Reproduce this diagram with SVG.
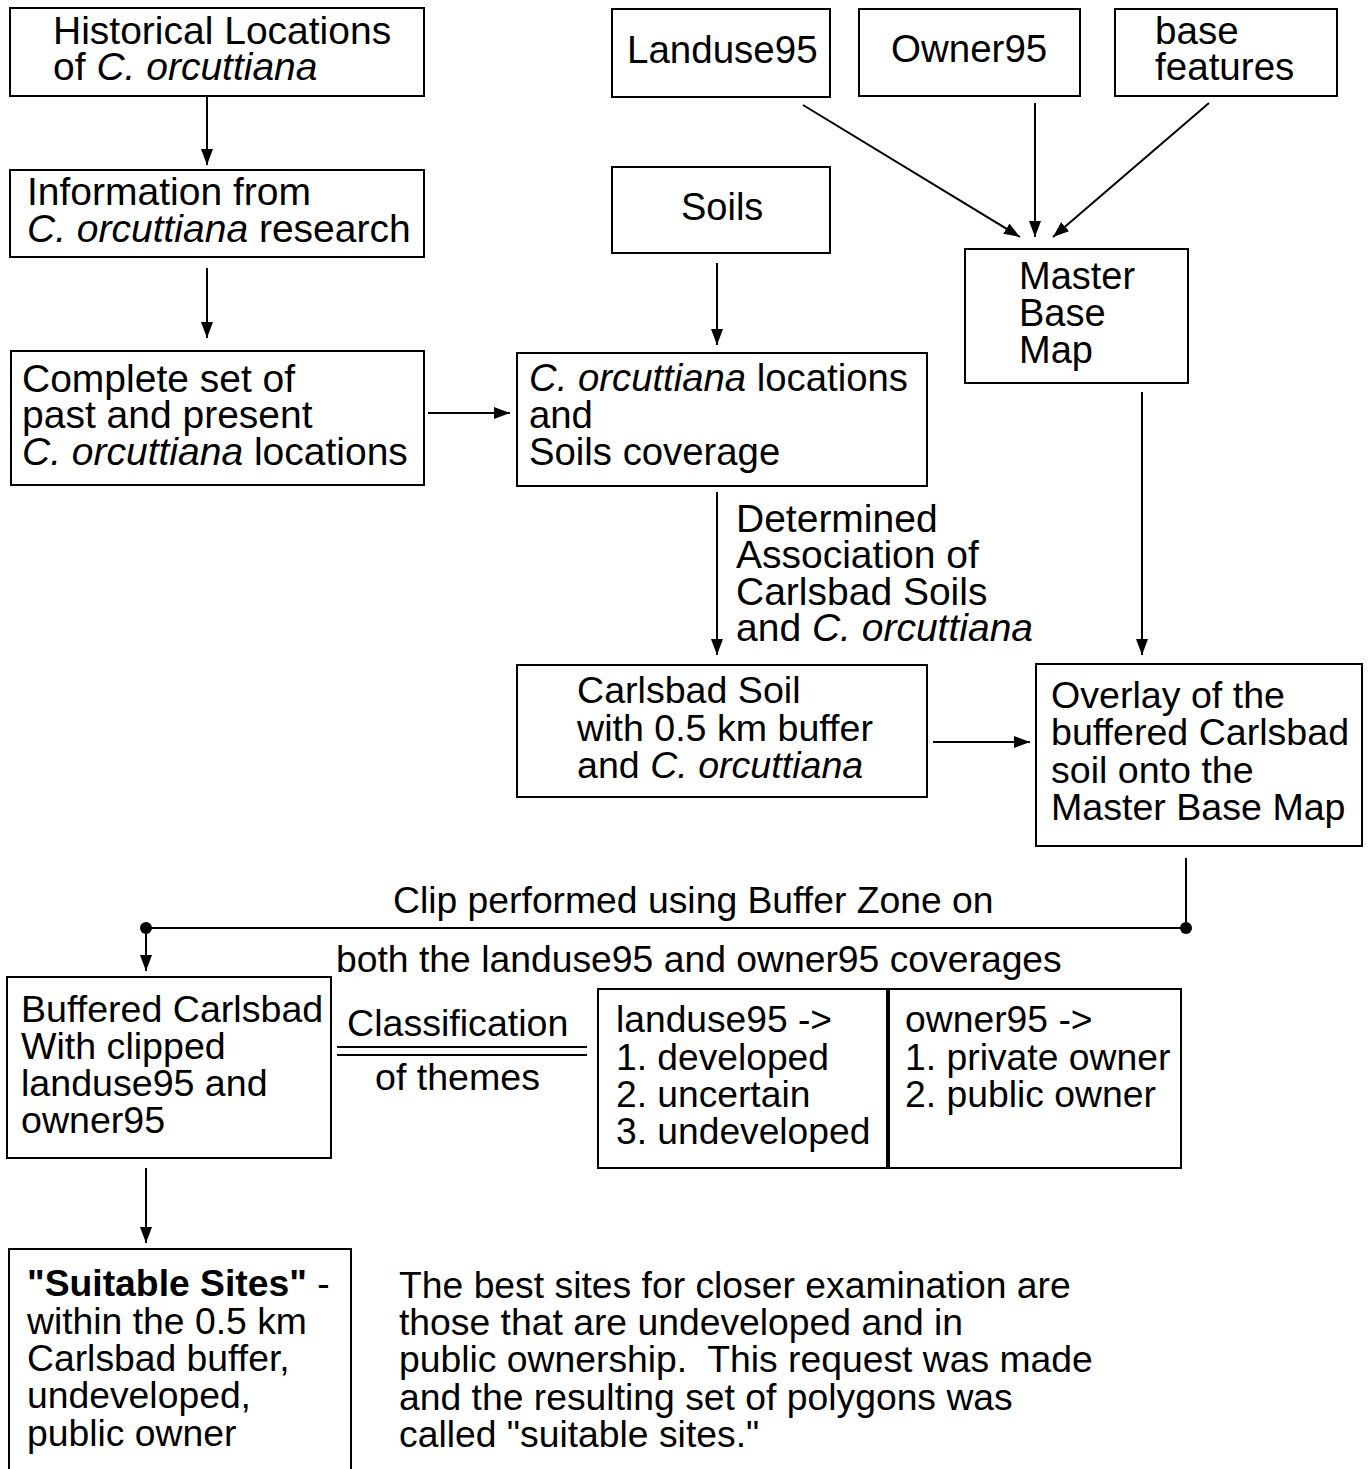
<svg xmlns="http://www.w3.org/2000/svg" width="1369" height="1469" viewBox="0 0 1369 1469">
<style>
.b{fill:#fff;stroke:#000;stroke-width:2}
.t{font-family:"Liberation Sans",Arial,sans-serif;font-size:38px;fill:#000}
.s39{font-size:39px}
.s37{font-size:37.3px}
.s375{font-size:37.6px}
.i{font-style:italic}
.bd{font-weight:bold}
.c{stroke:#000;stroke-width:2;fill:none}
.a{marker-end:url(#ah)}
</style>
<defs>
<marker id="ah" markerWidth="16" markerHeight="12" refX="16" refY="6" orient="auto" markerUnits="userSpaceOnUse">
<path d="M0,0 L16,6 L0,12 z" fill="#000"/>
</marker>
</defs>
<rect width="1369" height="1469" fill="#fff"/>

<g id="connectors">
<line class="c a" x1="207" y1="96" x2="207" y2="165"/>
<line class="c a" x1="207" y1="268" x2="207" y2="338"/>
<line class="c a" x1="428" y1="413" x2="510" y2="413"/>
<line class="c a" x1="717" y1="263" x2="717" y2="345"/>
<line class="c a" x1="803" y1="105" x2="1020" y2="237"/>
<line class="c a" x1="1035" y1="103" x2="1035" y2="237"/>
<line class="c a" x1="1209" y1="103" x2="1053" y2="237"/>
<line class="c a" x1="1142" y1="392" x2="1142" y2="655"/>
<line class="c a" x1="717" y1="492" x2="717" y2="655"/>
<line class="c a" x1="933" y1="742" x2="1030" y2="742"/>
<polyline class="c" points="1186,858 1186,928 146,928"/>
<circle cx="1186" cy="928" r="6" fill="#000"/>
<circle cx="146" cy="928" r="6" fill="#000"/>
<line class="c a" x1="146" y1="928" x2="146" y2="971"/>
<line class="c a" x1="146" y1="1168" x2="146" y2="1243"/>
<text class="t s39"><tspan x="736" y="532">Determined</tspan><tspan x="736" y="568">Association of</tspan><tspan x="736" y="605">Carlsbad Soils</tspan><tspan x="736" y="641">and <tspan class="i">C. orcuttiana</tspan></tspan></text>
<text class="t s37" x="393" y="913">Clip performed using Buffer Zone on</text>
<text class="t s37" x="336" y="972">both the landuse95 and owner95 coverages</text>
<line class="c" x1="337" y1="1047" x2="587" y2="1047"/>
<line class="c" x1="337" y1="1055" x2="587" y2="1055"/>
<text class="t s375" x="347" y="1036">Classification</text>
<text class="t s375" x="375" y="1090">of themes</text>
</g>

<g id="historical">
<rect class="b" x="10" y="8" width="414" height="88"/>
<text class="t s39"><tspan x="53" y="44">Historical Locations</tspan><tspan x="53" y="80">of <tspan class="i">C. orcuttiana</tspan></tspan></text>
</g>

<g id="information">
<rect class="b" x="10" y="170" width="414" height="87"/>
<text class="t s39"><tspan x="27" y="205">Information from</tspan><tspan x="27" y="242"><tspan class="i">C. orcuttiana</tspan> research</tspan></text>
</g>

<g id="complete">
<rect class="b" x="11" y="351" width="413" height="134"/>
<text class="t s39"><tspan x="22" y="392">Complete set of</tspan><tspan x="22" y="428">past and present</tspan><tspan x="22" y="465"><tspan class="i">C. orcuttiana</tspan> locations</tspan></text>
</g>

<g id="landuse95">
<rect class="b" x="612" y="9" width="218" height="88"/>
<text class="t" x="627" y="63" style="font-size:38.5px">Landuse95</text>
</g>

<g id="owner95">
<rect class="b" x="859" y="9" width="221" height="87"/>
<text class="t" x="891" y="62" style="font-size:38.5px">Owner95</text>
</g>

<g id="basefeatures">
<rect class="b" x="1115" y="9" width="222" height="87"/>
<text class="t" style="font-size:38.6px"><tspan x="1155" y="44">base</tspan><tspan x="1155" y="80">features</tspan></text>
</g>

<g id="soils">
<rect class="b" x="612" y="167" width="218" height="86"/>
<text class="t" x="681" y="220">Soils</text>
</g>

<g id="masterbasemap">
<rect class="b" x="965" y="249" width="223" height="134"/>
<text class="t"><tspan x="1019" y="289">Master</tspan><tspan x="1019" y="326">Base</tspan><tspan x="1019" y="363">Map</tspan></text>
</g>

<g id="locationssoils">
<rect class="b" x="517" y="353" width="410" height="133"/>
<text class="t" style="font-size:38.3px"><tspan x="529" y="391"><tspan class="i">C. orcuttiana</tspan> locations</tspan><tspan x="529" y="428">and</tspan><tspan x="529" y="465">Soils coverage</tspan></text>
</g>

<g id="carlsbadsoil">
<rect class="b" x="517" y="665" width="410" height="132"/>
<text class="t s375"><tspan x="577" y="703">Carlsbad Soil</tspan><tspan x="577" y="741">with 0.5 km buffer</tspan><tspan x="577" y="778">and <tspan class="i">C. orcuttiana</tspan></tspan></text>
</g>

<g id="overlay">
<rect class="b" x="1036" y="664" width="326" height="182"/>
<text class="t s375"><tspan x="1051" y="708">Overlay of the</tspan><tspan x="1051" y="745">buffered Carlsbad</tspan><tspan x="1051" y="783">soil onto the</tspan><tspan x="1051" y="820">Master Base Map</tspan></text>
</g>

<g id="bufferedcarlsbad">
<rect class="b" x="7" y="977" width="324" height="181"/>
<text class="t s375"><tspan x="21" y="1022">Buffered Carlsbad</tspan><tspan x="21" y="1059">With clipped</tspan><tspan x="21" y="1096">landuse95 and</tspan><tspan x="21" y="1133">owner95</tspan></text>
</g>

<g id="landuseclasses">
<rect class="b" x="598" y="989" width="289" height="179"/>
<text class="t" style="font-size:37.2px"><tspan x="616" y="1032">landuse95 -&gt;</tspan><tspan x="616" y="1070">1. developed</tspan><tspan x="616" y="1107">2. uncertain</tspan><tspan x="616" y="1144">3. undeveloped</tspan></text>
</g>

<g id="ownerclasses">
<rect class="b" x="889" y="989" width="292" height="179"/>
<text class="t s37"><tspan x="905" y="1032">owner95 -&gt;</tspan><tspan x="905" y="1070">1. private owner</tspan><tspan x="905" y="1107">2. public owner</tspan></text>
</g>

<g id="suitablesites">
<rect class="b" x="9" y="1249" width="342" height="240"/>
<text class="t s37"><tspan x="27" y="1296"><tspan class="bd">"Suitable Sites"</tspan> -</tspan><tspan x="27" y="1334">within the 0.5 km</tspan><tspan x="27" y="1371">Carlsbad buffer,</tspan><tspan x="27" y="1408">undeveloped,</tspan><tspan x="27" y="1446">public owner</tspan></text>
</g>

<g id="note">
<text class="t s37"><tspan x="399" y="1298">The best sites for closer examination are</tspan><tspan x="399" y="1335">those that are undeveloped and in</tspan><tspan x="399" y="1372">public ownership.&#160; This request was made</tspan><tspan x="399" y="1410">and the resulting set of polygons was</tspan><tspan x="399" y="1447">called "suitable sites."</tspan></text>
</g>
</svg>
